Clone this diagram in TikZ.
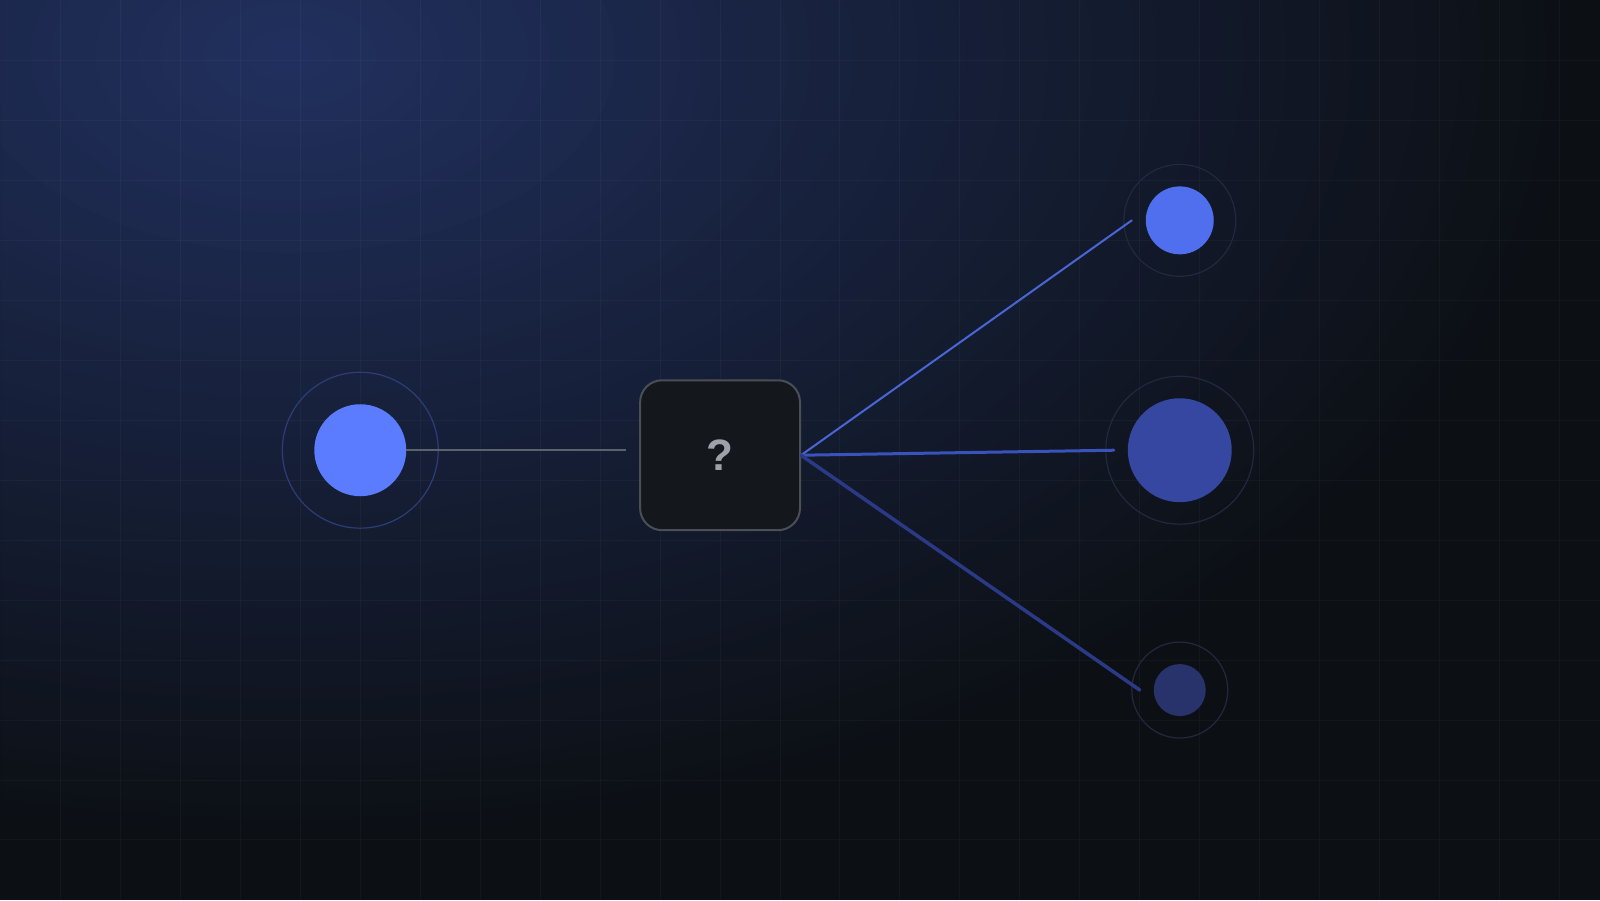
\documentclass[tikz,border=0pt]{standalone}
\usepackage{fontspec}
\setsansfont{Liberation Sans}
\usetikzlibrary{calc}

\definecolor{bgdark}{HTML}{0C1015}
\definecolor{glowA}{HTML}{21305F}
\definecolor{dotbright}{HTML}{5B7CFF}
\definecolor{dothi}{HTML}{4F6FEE}
\definecolor{dotmid}{HTML}{3547A0}
\definecolor{dotlo}{HTML}{28336C}
\definecolor{ringleft}{HTML}{2E3C78}
\definecolor{ringdim}{HTML}{22283F}
\definecolor{wiregrey}{HTML}{5C616E}
\definecolor{wirehi}{HTML}{4A66D6}
\definecolor{wiremid}{HTML}{3A52BC}
\definecolor{wirelo}{HTML}{2A3A86}
\definecolor{boxfill}{HTML}{14171C}
\definecolor{boxedge}{HTML}{4A4E57}
\definecolor{qmark}{HTML}{9DA1A8}

\begin{document}
\begin{tikzpicture}[x=1pt, y=-1pt, line cap=round, line join=round]
	\tikzset{dot/.style={circle, inner sep=0pt, draw=none},
		ring/.style={circle, inner sep=0pt, draw=ringdim, line width=1.2pt},
		gridline/.style={white, opacity=0.03, line width=1pt},
		qbox/.style={rectangle, rounded corners=22pt, draw=boxedge, line width=2pt, fill=boxfill, minimum width=160pt, minimum height=150pt, text=qmark, font=\sffamily\bfseries\fontsize{44}{48}\selectfont}}
	% background with glow and grid
	\fill[bgdark] (0,0) rectangle (1600,900);
	\begin{scope}
		\clip (0,0) rectangle (1600,900);
		\foreach \k in {1,...,59}{
			\pgfmathsetmacro\gt{1-\k/60}
			\pgfmathsetmacro\gp{100*(\k/60)^1.05}
			\fill[glowA!\gp!bgdark] (290,55) ellipse [x radius=1300*\gt, y radius=790*\gt];
		}
	\end{scope}
	\foreach \gx in {60,120,...,1560} \draw[gridline] (\gx,0) -- (\gx,900);
	\foreach \gy in {60,120,...,840} \draw[gridline] (0,\gy) -- (1600,\gy);
	\useasboundingbox (0,0) rectangle (1600,900);

	% source
	\node[ring, draw=ringleft, minimum size=156] (srcring) at (360,450) {};
	\node[dot, fill=dotbright, minimum size=92] (src) at (360,450) {};
	\node[qbox] (qbox) at (720,455) {?};

	% outcomes
	\node[ring, minimum size=112] (hiring) at (1180,220) {};
	\node[dot, fill=dothi, minimum size=68] (hi) at (1180,220) {};
	\node[ring, minimum size=148] (midring) at (1180,450) {};
	\node[dot, fill=dotmid, minimum size=104] (mid) at (1180,450) {};
	\node[ring, minimum size=96] (loring) at (1180,690) {};
	\node[dot, fill=dotlo, minimum size=52] (lo) at (1180,690) {};

	\coordinate (inL) at (626,450);
	\coordinate (endhi) at ($(hi)+(-48,0)$);
	\coordinate (endmid) at ($(mid)+(-66,0)$);
	\coordinate (endlo) at ($(lo)+(-40,0)$);

	\draw[wiregrey, line width=2.5pt, line cap=butt] (src.east) -- (inL);
	\draw[wirehi, line width=2pt] (qbox.east) -- (endhi);
	\draw[wiremid, line width=3pt] (qbox.east) -- (endmid);
	\draw[wirelo, line width=3.5pt] (qbox.east) -- (endlo);
\end{tikzpicture}
\end{document}
